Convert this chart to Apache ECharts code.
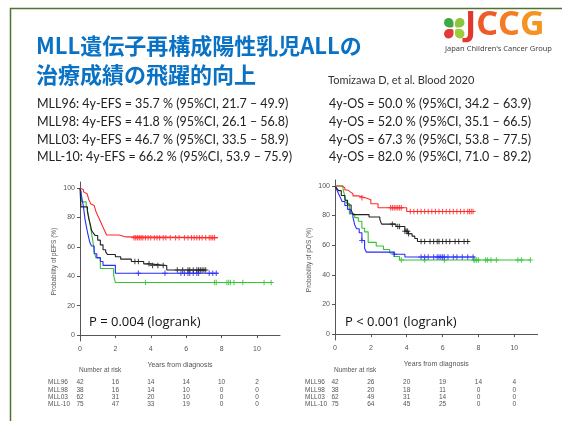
<!DOCTYPE html>
<html>
<head>
<meta charset="utf-8">
<script src="https://cdn.jsdelivr.net/npm/echarts@6/dist/echarts.min.js"></script>
<style>
html,body{margin:0;padding:0;background:#fff;}
#main{width:562px;height:421px;}
</style>
</head>
<body>
<div id="main"></div>
<script type="text/javascript">
// group names and colours
var groups = ['MLL96', 'MLL98', 'MLL03', 'MLL-10'];
var groupColors = ['#33c433', '#2a2aff', '#222222', '#ff2a2a'];

// EFS curves (years, %)
var efsT96 = [0, 0.05, 0.1, 0.35, 0.45, 0.55, 0.62, 0.72, 0.8, 0.9, 1.15, 1.9, 2.0, 10.9];
var efsS96 = [100, 97.6, 90.5, 88.1, 83.3, 76.2, 71.4, 64.3, 57.1, 52.4, 45.2, 40.5, 35.7, 35.7];
var efsC96 = [3.7, 7.6, 7.7, 8.3, 8.4, 8.5, 8.7, 9.2, 10.4, 10.8];
var efsT98 = [0, 0.05, 0.12, 0.2, 0.28, 0.36, 0.45, 0.55, 0.65, 0.8, 0.95, 1.15, 1.3, 2.0, 7.8];
var efsS98 = [100, 97.4, 92.1, 86.8, 79, 73.7, 68.4, 63.2, 60.5, 55.3, 52.6, 50, 47.4, 42, 42];
var efsC98 = [3.3, 4.8, 5.7, 5.9, 6.1, 6.2, 6.4, 6.6, 6.7, 7.3, 7.5, 7.7];
var efsT03 = [0, 0.05, 0.42, 0.5, 0.57, 0.66, 0.75, 0.85, 1.0, 1.15, 1.3, 1.45, 1.55, 2.0, 2.3, 2.9, 3.6, 3.95, 4.9, 7.1];
var efsS03 = [100, 87.1, 83.9, 79, 75.8, 71, 69.4, 67.7, 64.5, 61.3, 58, 56.5, 54.8, 53.2, 51.6, 50, 48.4, 47.3, 44.2, 44.2];
var efsC03 = [3.1, 3.3, 3.9, 4.1, 4.4, 4.7, 5.5, 5.8, 6.1, 6.2, 6.4, 6.6, 6.7, 6.8, 6.9, 7.0, 7.1];
var efsT10 = [0, 0.1, 0.2, 0.3, 0.4, 0.5, 0.6, 0.7, 0.8, 0.9, 1.0, 1.1, 1.2, 1.3, 1.4, 1.5, 2.2, 2.6, 7.8];
var efsS10 = [100, 98.7, 97.3, 96, 94.7, 92, 89.3, 88, 86.7, 84, 81.3, 78.7, 76, 73.3, 70.7, 68, 66.7, 66.2, 66.2];
var efsC10 = [3.05, 3.15, 3.25, 3.35, 3.45, 3.55, 3.7, 3.85, 4.0, 4.2, 4.35, 4.5, 4.7, 4.85, 5.1, 5.4, 5.6, 5.9, 6.1, 6.3, 6.45, 6.6, 6.75, 6.9, 7.1, 7.3, 7.4, 7.5, 7.6];

// OS curves (years, %)
var osT96 = [0, 0.45, 0.55, 0.65, 0.8, 1.1, 1.3, 1.5, 1.65, 1.85, 2.3, 2.7, 3.05, 3.3, 3.6, 10.9];
var osS96 = [100, 97.6, 92.9, 88.1, 81, 78.6, 76.2, 71.4, 69, 61.9, 59.5, 57.1, 54.8, 52.4, 50, 50];
var osC96 = [3.7, 5.0, 6.1, 7.75, 7.8, 7.9, 8.0, 8.4, 8.5, 8.7, 9.0, 10.2, 10.4, 10.9];
var osT98 = [0, 0.1, 0.2, 0.3, 0.4, 0.55, 0.7, 0.85, 1.0, 1.1, 1.2, 1.35, 1.5, 1.65, 1.75, 3.3, 3.9, 7.8];
var osS98 = [100, 97.4, 94.7, 92.1, 89.5, 86.8, 84.2, 81.6, 78.9, 73.7, 71.1, 68.4, 63.2, 57.9, 55.3, 53.9, 52, 52];
var osC98 = [1.5, 3.3, 4.8, 5.0, 5.2, 5.5, 5.7, 5.8, 5.9, 6.0, 6.1, 6.3, 6.6, 6.8, 7.1, 7.4, 7.7];
var osT03 = [0, 0.1, 0.2, 0.35, 0.55, 0.7, 0.9, 1.0, 1.9, 2.5, 2.6, 3.4, 3.9, 4.1, 4.3, 4.45, 4.6, 7.5];
var osS03 = [100, 98.4, 96.8, 93.5, 90.3, 87.1, 83.9, 80.6, 79, 77.4, 74.2, 72.6, 69.4, 67.7, 66.1, 64.5, 62.5, 62.5];
var osC03 = [3.2, 3.5, 3.6, 3.9, 4.0, 4.05, 4.1, 4.8, 5.0, 5.3, 5.5, 5.7, 5.8, 6.0, 6.2, 6.4, 6.7, 6.9, 7.2, 7.4];
var osT10 = [0, 0.4, 0.55, 0.7, 0.85, 1.0, 1.3, 1.7, 2.0, 2.4, 4.0, 7.8];
var osS10 = [100, 98.7, 97.3, 96, 94.7, 93.3, 92, 90.7, 88, 85.3, 82.7, 82.7];
var osC10 = [1.5, 3.1, 3.2, 3.3, 3.4, 3.5, 3.6, 3.7, 4.2, 4.4, 4.6, 4.8, 5.0, 5.2, 5.4, 5.6, 5.8, 6.0, 6.2, 6.4, 6.6, 6.8, 7.0, 7.2, 7.4, 7.5, 7.6, 7.7];

// ticks and number at risk
var xTicks = [0, 2, 4, 6, 8, 10];
var yTicks = [0, 20, 40, 60, 80, 100];
var efsRisk96 = [42, 16, 14, 14, 10, 2];
var efsRisk98 = [38, 16, 14, 10, 0, 0];
var efsRisk03 = [62, 31, 20, 10, 0, 0];
var efsRisk10 = [75, 47, 33, 19, 0, 0];
var osRisk96 = [42, 26, 20, 19, 14, 4];
var osRisk98 = [38, 20, 18, 11, 0, 0];
var osRisk03 = [62, 49, 31, 14, 0, 0];
var osRisk10 = [75, 64, 45, 25, 0, 0];

// slide text
var titleLines = ['MLL遺伝子再構成陽性乳児ALLの', '治療成績の飛躍的向上'];
var citation = 'Tomizawa D, et al. Blood 2020';
var efsText = [
  'MLL96: 4y-EFS = 35.7 % (95%CI, 21.7 – 49.9)',
  'MLL98: 4y-EFS = 41.8 % (95%CI, 26.1 – 56.8)',
  'MLL03: 4y-EFS = 46.7 % (95%CI, 33.5 – 58.9)',
  'MLL-10: 4y-EFS = 66.2 % (95%CI, 53.9 – 75.9)'
];
var osText = [
  '4y-OS = 50.0 % (95%CI, 34.2 – 63.9)',
  '4y-OS = 52.0 % (95%CI, 35.1 – 66.5)',
  '4y-OS = 67.3 % (95%CI, 53.8 – 77.5)',
  '4y-OS = 82.0 % (95%CI, 71.0 – 89.2)'
];

var efsCurves = [[efsT96, efsS96, efsC96], [efsT98, efsS98, efsC98], [efsT03, efsS03, efsC03], [efsT10, efsS10, efsC10]];
var osCurves = [[osT96, osS96, osC96], [osT98, osS98, osC98], [osT03, osS03, osC03], [osT10, osS10, osC10]];
var efsRisk = [efsRisk96, efsRisk98, efsRisk03, efsRisk10];
var osRisk = [osRisk96, osRisk98, osRisk03, osRisk10];

function stepValue(ts, ss, t) {
  var v = ss[0];
  for (var i = 0; i < ts.length; i++) { if (ts[i] <= t) v = ss[i]; }
  return v;
}

var axisFont = 'Liberation Sans';
var axisGray = '#555';
var plus = 'path://M5,0L5,10M0,5L10,5';

function makeSeries(curves, idx) {
  var out = [];
  curves.forEach(function (c, g) {
    var pts = c[0].map(function (t, i) { return [t, c[1][i]]; });
    out.push({
      type: 'line', step: 'end', xAxisIndex: idx, yAxisIndex: idx,
      data: pts, showSymbol: false, silent: true,
      lineStyle: { color: groupColors[g], width: 1.1 }, z: 2 + g
    });
    out.push({
      type: 'scatter', xAxisIndex: idx, yAxisIndex: idx, silent: true,
      data: c[2].map(function (t) { return [t, stepValue(c[0], c[1], t)]; }),
      symbol: plus, symbolSize: 5.5,
      itemStyle: { color: 'transparent', borderColor: groupColors[g], borderWidth: 1.1 }, z: 6 + g
    });
  });
  return out;
}

function xAxisCfg(idx) {
  return {
    gridIndex: idx, type: 'value', min: 0, max: 11.3,
    name: 'Years from diagnosis', nameLocation: 'middle', nameGap: 21,
    nameTextStyle: { fontFamily: axisFont, fontSize: 7, color: axisGray },
    axisLine: { lineStyle: { color: axisGray, width: 1 } },
    axisTick: { length: 3, lineStyle: { color: axisGray }, customValues: xTicks },
    axisLabel: { fontFamily: axisFont, fontSize: 7, color: axisGray, margin: 5, customValues: xTicks },
    splitLine: { show: false }
  };
}
function yAxisCfg(idx, name) {
  return {
    gridIndex: idx, type: 'value', min: -4, max: 104,
    name: name, nameLocation: 'middle', nameGap: 22, nameRotate: 90,
    nameTextStyle: { fontFamily: axisFont, fontSize: 6.5, color: axisGray },
    axisLine: { show: true, lineStyle: { color: axisGray, width: 1 } },
    axisTick: { show: true, length: 3, lineStyle: { color: axisGray }, customValues: yTicks },
    axisLabel: { fontFamily: axisFont, fontSize: 7, color: axisGray, margin: 5, customValues: yTicks },
    splitLine: { show: false }
  };
}

var myChart = echarts.init(document.getElementById('main'), null, { renderer: 'canvas' });

var graphics = [];
// slide border
graphics.push({ type: 'rect', shape: { x: 10.5, y: 8.5, width: 600, height: 450 }, style: { fill: null, stroke: '#4f7430', lineWidth: 1.5 }, silent: true });
// title
titleLines.forEach(function (s, i) {
  graphics.push({ type: 'text', left: 36, top: 35 + i * 29, style: { text: s, fill: '#0a72c4', font: 'bold 22px "Noto Sans CJK JP"' } });
});
graphics.push({ type: 'text', left: 328, top: 75, style: { text: citation, fill: '#333', font: '11px Lato' } });
efsText.forEach(function (s, i) {
  graphics.push({ type: 'text', left: 37, top: 97.5 + i * 17.8, style: { text: s, fill: '#222', font: '12.5px Lato' } });
});
osText.forEach(function (s, i) {
  graphics.push({ type: 'text', left: 329, top: 97.5 + i * 17.8, style: { text: s, fill: '#222', font: '12.5px Lato' } });
});
// logo
var leafColors = ['#3fa845', '#8cc63e', '#e23a3a', '#9ccb3b'];
[[444, 18], [455, 18], [444, 29], [455, 29]].forEach(function (p, i) {
  graphics.push({ type: 'rect', shape: { x: p[0], y: p[1], width: 9.5, height: 9.5, r: [i == 3 ? 2 : 5, i == 2 ? 2 : 5, i == 0 ? 2 : 5, i == 1 ? 2 : 5] }, style: { fill: leafColors[i] } });
});
graphics.push({ type: 'text', left: 465, top: 8, style: { text: '{a|J}{b|C}{c|C}{d|G}', rich: {
  a: { fill: '#e2362e', font: 'bold 34px "Noto Sans"' },
  b: { fill: '#ef5a29', font: 'bold 34px "Noto Sans"' },
  c: { fill: '#f47c24', font: 'bold 34px "Noto Sans"' },
  d: { fill: '#f59422', font: 'bold 34px "Noto Sans"' } } } });
graphics.push({ type: 'text', left: 445, top: 45, style: { text: 'Japan Children\'s Cancer Group', fill: '#444', font: '7.5px "Noto Sans"' } });
// p values
graphics.push({ type: 'text', left: 89, top: 316, style: { text: 'P = 0.004 (logrank)', fill: '#111', font: '13px "Open Sans"' } });
graphics.push({ type: 'text', left: 345, top: 316, style: { text: 'P < 0.001 (logrank)', fill: '#111', font: '13px "Open Sans"' } });

var option = {
  backgroundColor: '#fff',
  animation: false,
  grid: [
    { left: 80, top: 182, width: 200, height: 159 },
    { left: 335, top: 180, width: 202.6, height: 160 }
  ],
  xAxis: [xAxisCfg(0), xAxisCfg(1)],
  yAxis: [yAxisCfg(0, 'Probability of pEFS (%)'), yAxisCfg(1, 'Probability of pOS (%)')],
  series: makeSeries(efsCurves, 0).concat(makeSeries(osCurves, 1)),
  graphic: graphics
};
myChart.setOption(option);

// number at risk table, placed with the axis scale
function riskTable(idx, risk, labelX) {
  var g = [];
  var x0 = myChart.convertToPixel({ xAxisIndex: idx }, 0);
  g.push({ type: 'text', left: x0 - 1, top: 367, style: { text: 'Number at risk', fill: axisGray, font: '6.5px "Liberation Sans"' } });
  risk.forEach(function (row, r) {
    var y = 379 + r * 7.3;
    g.push({ type: 'text', left: labelX, top: y, style: { text: groups[r], fill: axisGray, font: '6.5px "Liberation Sans"' } });
    row.forEach(function (v, k) {
      var px = myChart.convertToPixel({ xAxisIndex: idx }, xTicks[k]);
      g.push({ type: 'text', x: px, y: y, style: { text: String(v), fill: axisGray, font: '6.5px "Liberation Sans"', align: 'center' } });
    });
  });
  return g;
}
myChart.setOption({ graphic: graphics.concat(riskTable(0, efsRisk, 48), riskTable(1, osRisk, 305)) });
</script>
</body>
</html>
